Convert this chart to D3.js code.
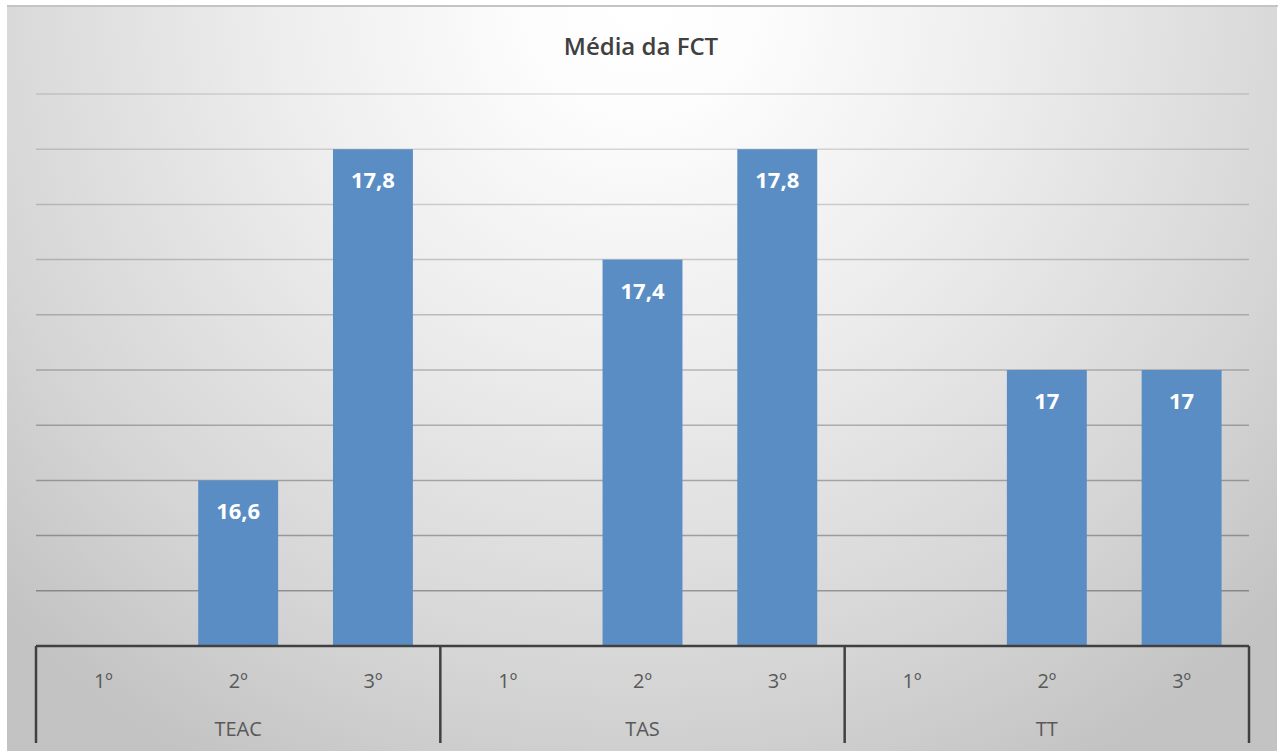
<!DOCTYPE html>
<html>
<head>
<meta charset="utf-8">
<script src="https://cdn.jsdelivr.net/npm/d3@7"></script>
<style>
  body { margin: 0; background: #fff; }
  svg { display: block; }
</style>
</head>
<body>
<script>
// chart data
const title = "Média da FCT"
const groups = ["TEAC", "TAS", "TT"]
const years = ["1º", "2º", "3º"]
const teacValues = [null, 16.6, 17.8]
const tasValues = [null, 17.4, 17.8]
const ttValues = [null, 17, 17]
const yTicks = [16, 16.2, 16.4, 16.6, 16.8, 17, 17.2, 17.4, 17.6, 17.8, 18]

const W = 1278, H = 751
const plotLeft = 36, plotRight = 1249, plotTop = 94, plotBase = 646

let rows = []
let seriesByGroup = [teacValues, tasValues, ttValues]
groups.forEach((g, gi) => {
    years.forEach((yr, yi) => {
        rows.push({ key: g + "|" + yr, group: g, year: yr, value: seriesByGroup[gi][yi] })
    })
})

const svg = d3.select("body").append("svg").attr("width", W).attr("height", H)

// background gradient
let defs = svg.append("defs")
let grad = defs.append("radialGradient")
    .attr("id", "bg")
    .attr("gradientUnits", "userSpaceOnUse")
    .attr("cx", 640).attr("cy", 0).attr("r", 880)
grad.append("stop").attr("offset", "0").attr("stop-color", "#ffffff")
grad.append("stop").attr("offset", "0.12").attr("stop-color", "#fdfdfd")
grad.append("stop").attr("offset", "0.4").attr("stop-color", "#eeeeee")
grad.append("stop").attr("offset", "0.78").attr("stop-color", "#d5d5d5")
grad.append("stop").attr("offset", "1").attr("stop-color", "#c3c3c3")

svg.append("rect").attr("x", 7).attr("y", 5).attr("width", W - 8).attr("height", H - 5)
    .attr("fill", "url(#bg)")
svg.append("line").attr("x1", 7).attr("x2", W).attr("y1", 6).attr("y2", 6)
    .attr("stroke", "#c4c4c4").attr("stroke-width", 2)

const x = d3.scaleBand()
    .domain(rows.map(d => d.key))
    .range([plotLeft, plotRight])
    .paddingInner(0.407)
    .paddingOuter(0.2035)

const y = d3.scaleLinear().domain([16, 18]).range([plotBase, plotTop])

// gridlines
svg.append("g")
    .selectAll("line")
    .data(yTicks.slice(1))
    .join("line")
    .attr("x1", plotLeft).attr("x2", plotRight)
    .attr("y1", d => y(d)).attr("y2", d => y(d))
    .attr("stroke", "#000")
    .attr("stroke-opacity", d => 0.12 + 0.22 * (18 - d) / 2)
    .attr("stroke-width", 1.5)

// bars
let bars = rows.filter(d => d.value != null)
svg.append("g")
    .selectAll("rect")
    .data(bars)
    .join("rect")
    .attr("x", d => x(d.key))
    .attr("y", d => y(d.value))
    .attr("width", x.bandwidth())
    .attr("height", d => plotBase - y(d.value))
    .attr("fill", "#5b8dc5")

// data labels
svg.append("g")
    .selectAll("text")
    .data(bars)
    .join("text")
    .attr("x", d => x(d.key) + x.bandwidth() / 2)
    .attr("y", d => y(d.value) + 39)
    .attr("text-anchor", "middle")
    .attr("fill", "#fff")
    .attr("font-family", "Open Sans, sans-serif")
    .attr("font-weight", "bold")
    .attr("font-size", 22)
    .text(d => String(d.value).replace(".", ","))

// axis
let groupW = (plotRight - plotLeft) / groups.length
let axis = svg.append("g").attr("stroke", "#404040").attr("stroke-width", 2.5)
axis.append("line").attr("x1", plotLeft).attr("x2", plotRight).attr("y1", plotBase).attr("y2", plotBase)
d3.range(groups.length + 1).forEach(i => {
    axis.append("line")
        .attr("x1", plotLeft + i * groupW).attr("x2", plotLeft + i * groupW)
        .attr("y1", plotBase).attr("y2", 743)
})

svg.append("g")
    .selectAll("text")
    .data(rows)
    .join("text")
    .attr("x", d => x(d.key) + x.bandwidth() / 2)
    .attr("y", 688)
    .attr("text-anchor", "middle")
    .attr("fill", "#595959")
    .attr("font-family", "Open Sans, sans-serif")
    .attr("font-size", 20)
    .text(d => d.year)

svg.append("g")
    .selectAll("text")
    .data(groups)
    .join("text")
    .attr("x", (d, i) => plotLeft + (i + 0.5) * groupW)
    .attr("y", 736)
    .attr("text-anchor", "middle")
    .attr("fill", "#595959")
    .attr("font-family", "Open Sans, sans-serif")
    .attr("font-size", 20)
    .text(d => d)

svg.append("text")
    .attr("x", 641).attr("y", 55)
    .attr("text-anchor", "middle")
    .attr("fill", "#404040")
    .attr("font-family", "Open Sans, sans-serif")
    .attr("font-weight", 600)
    .attr("font-size", 24)
    .text(title)
</script>
</body>
</html>
